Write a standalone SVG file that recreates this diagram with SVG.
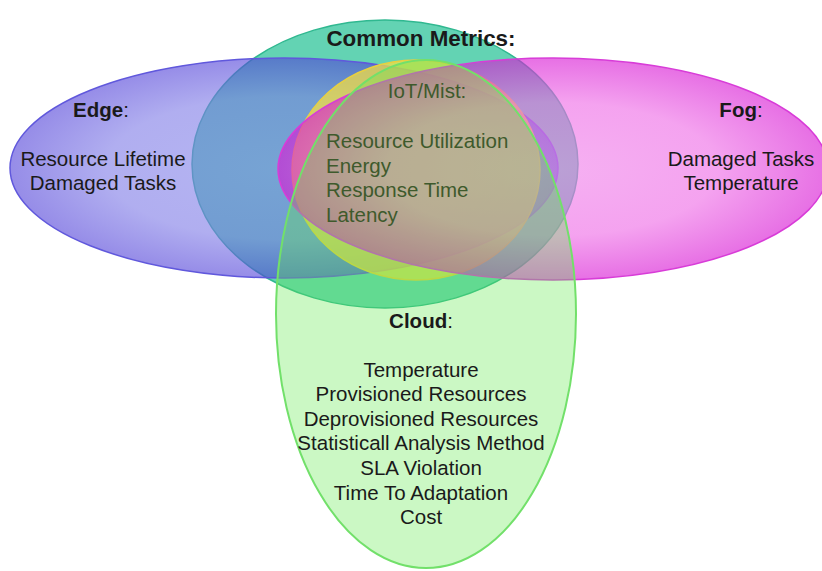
<svg xmlns="http://www.w3.org/2000/svg" width="822" height="571" viewBox="0 0 822 571">
<defs>
<radialGradient id="gEdge" cx="0.5" cy="0.5" r="0.5">
<stop offset="0" stop-color="#8484ea"/><stop offset="0.65" stop-color="#7c78e6"/><stop offset="1" stop-color="#5040d8"/>
</radialGradient>
<radialGradient id="gFog" cx="0.5" cy="0.5" r="0.5">
<stop offset="0" stop-color="#f080ea"/><stop offset="0.6" stop-color="#ee6ae6"/><stop offset="1" stop-color="#d818d4"/>
</radialGradient>
<style>
text{font-family:"Liberation Sans",Arial,sans-serif;font-size:20.5px;fill:#1a1a1a}
.c{text-anchor:middle}
.b{font-weight:bold}
.g{fill:#3e5a2c}
</style>
</defs>
<rect width="822" height="571" fill="#ffffff"/>
<g id="common"><ellipse cx="385" cy="164" rx="193" ry="144" fill="#3cc8a0" fill-opacity="0.8" stroke="#30b890" stroke-width="1.5"/></g>
<g id="edge"><ellipse cx="284" cy="168" rx="274" ry="110" fill="url(#gEdge)" fill-opacity="0.6" stroke="#6058dc" stroke-width="1.5"/></g>
<g id="iot"><ellipse cx="416" cy="170" rx="124" ry="110" fill="#f8e040" fill-opacity="0.72" stroke="#e8d040" stroke-width="1.5"/></g>
<g id="fog"><ellipse cx="553" cy="169" rx="275" ry="111" fill="url(#gFog)" fill-opacity="0.62" stroke="#d83cd8" stroke-width="1.5"/></g>
<g id="cloud"><ellipse cx="426" cy="314" rx="150" ry="254" fill="#62ea4c" fill-opacity="0.33" stroke="#72e06a" stroke-width="2"/></g>
<g id="labels">
<text class="c b" x="421" y="46" style="font-size:22.4px">Common Metrics:</text>
<text class="c g" x="427" y="98">IoT/Mist:</text>
<text class="g" x="326" y="148">Resource Utilization</text>
<text class="g" x="326" y="173">Energy</text>
<text class="g" x="326" y="197">Response Time</text>
<text class="g" x="326" y="222">Latency</text>
<text class="c" x="101" y="117"><tspan class="b">Edge</tspan>:</text>
<text class="c" x="103" y="166">Resource Lifetime</text>
<text class="c" x="103" y="190">Damaged Tasks</text>
<text class="c" x="741" y="117"><tspan class="b">Fog</tspan>:</text>
<text class="c" x="741" y="166">Damaged Tasks</text>
<text class="c" x="741" y="190">Temperature</text>
<text class="c" x="421" y="328"><tspan class="b">Cloud</tspan>:</text>
<text class="c" x="421" y="377">Temperature</text>
<text class="c" x="421" y="401">Provisioned Resources</text>
<text class="c" x="421" y="426">Deprovisioned Resources</text>
<text class="c" x="421" y="450">Statisticall Analysis Method</text>
<text class="c" x="421" y="475">SLA Violation</text>
<text class="c" x="421" y="500">Time To Adaptation</text>
<text class="c" x="421" y="524">Cost</text>
</g>
</svg>
